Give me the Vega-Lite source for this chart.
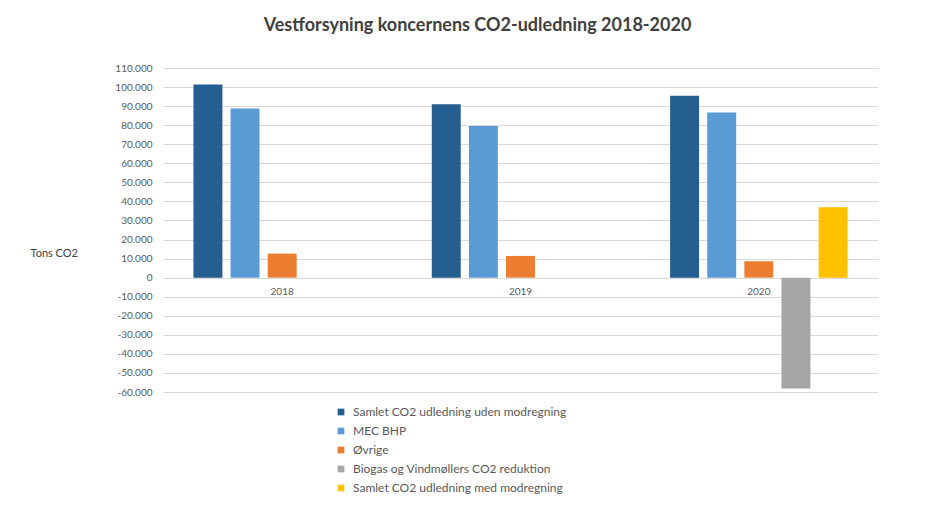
{
  "$schema": "https://vega.github.io/schema/vega-lite/v6.json",
  "width": 715,
  "height": 324,
  "autosize": {"type": "none"},
  "padding": {"left": 163, "top": 68, "right": 58, "bottom": 114},
  "background": "white",
  "title": {
    "text": "Vestforsyning koncernens CO2-udledning 2018-2020",
    "font": "Lato",
    "fontSize": 18,
    "fontWeight": "bold",
    "color": "#404040",
    "anchor": "middle",
    "dx": -43,
    "offset": 28
  },
  "config": {
    "view": {"stroke": null},
    "font": "Lato"
  },
  "data": {
    "values": [
      {"year": "2018", "series": "Samlet CO2 udledning uden modregning", "value": 101300},
      {"year": "2018", "series": "MEC BHP", "value": 88700},
      {"year": "2018", "series": "Øvrige", "value": 12600},
      {"year": "2019", "series": "Samlet CO2 udledning uden modregning", "value": 91000},
      {"year": "2019", "series": "MEC BHP", "value": 79600},
      {"year": "2019", "series": "Øvrige", "value": 11400},
      {"year": "2020", "series": "Samlet CO2 udledning uden modregning", "value": 95500},
      {"year": "2020", "series": "MEC BHP", "value": 86700},
      {"year": "2020", "series": "Øvrige", "value": 8600},
      {"year": "2020", "series": "Biogas og Vindmøllers CO2 reduktion", "value": -58200},
      {"year": "2020", "series": "Samlet CO2 udledning med modregning", "value": 36900}
    ]
  },
  "encoding": {
    "x": {
      "field": "year", "type": "nominal",
      "scale": {"paddingInner": 0, "paddingOuter": 0},
      "axis": null
    }
  },
  "layer": [
    {
      "mark": {"type": "bar"},
      "encoding": {
        "xOffset": {
          "field": "series", "type": "nominal",
          "scale": {
            "domain": ["Samlet CO2 udledning uden modregning", "MEC BHP", "Øvrige", "Biogas og Vindmøllers CO2 reduktion", "Samlet CO2 udledning med modregning"],
            "paddingInner": 0.22, "paddingOuter": 0.82
          }
        },
        "y": {
          "field": "value", "type": "quantitative",
          "scale": {"domain": [-60000, 110000], "nice": false, "zero": false},
          "axis": {
            "values": [-60000, -50000, -40000, -30000, -20000, -10000, 0, 10000, 20000, 30000, 40000, 50000, 60000, 70000, 80000, 90000, 100000, 110000],
            "tickCount": 18,
            "labelExpr": "replace(replace(format(datum.value, ','), ',', '.'), '−', '-')",
            "labelOverlap": false,
            "domain": false,
            "ticks": false,
            "labelPadding": 11,
            "labelColor": "#595959",
            "labelFontSize": 10,
            "labelFont": "Lato",
            "gridColor": "#d9d9d9",
            "gridWidth": 1,
            "title": "Tons CO2",
            "titleAngle": 0,
            "titleAlign": "left",
            "titleBaseline": "middle",
            "titleX": -133,
            "titleY": 185,
            "titleFont": "Lato",
            "titleFontSize": 11,
            "titleFontWeight": "normal",
            "titleColor": "#404040"
          }
        },
        "color": {
          "field": "series", "type": "nominal",
          "scale": {
            "domain": ["Samlet CO2 udledning uden modregning", "MEC BHP", "Øvrige", "Biogas og Vindmøllers CO2 reduktion", "Samlet CO2 udledning med modregning"],
            "range": ["#255E91", "#5B9BD5", "#ED7D31", "#A5A5A5", "#FFC000"]
          },
          "legend": {
            "title": null,
            "orient": "none",
            "legendX": 172,
            "legendY": 338,
            "direction": "vertical",
            "symbolType": "square",
            "symbolSize": 45,
            "symbolStrokeWidth": 0,
            "labelFont": "Lato",
            "labelFontSize": 12,
            "labelColor": "#595959",
            "rowPadding": 7,
            "labelOffset": 6,
            "labelLimit": 400
          }
        }
      }
    },
    {
      "data": {"values": [{"year": "2018"}, {"year": "2019"}, {"year": "2020"}]},
      "mark": {"type": "text", "baseline": "top", "dy": 9, "fontSize": 10, "color": "#595959", "font": "Lato"},
      "encoding": {
        "y": {
          "datum": 0, "type": "quantitative",
          "axis": {
            "values": [-60000, -50000, -40000, -30000, -20000, -10000, 0, 10000, 20000, 30000, 40000, 50000, 60000, 70000, 80000, 90000, 100000, 110000],
            "tickCount": 18,
            "labelOverlap": false
          }
        },
        "text": {"field": "year"}
      }
    }
  ]
}
